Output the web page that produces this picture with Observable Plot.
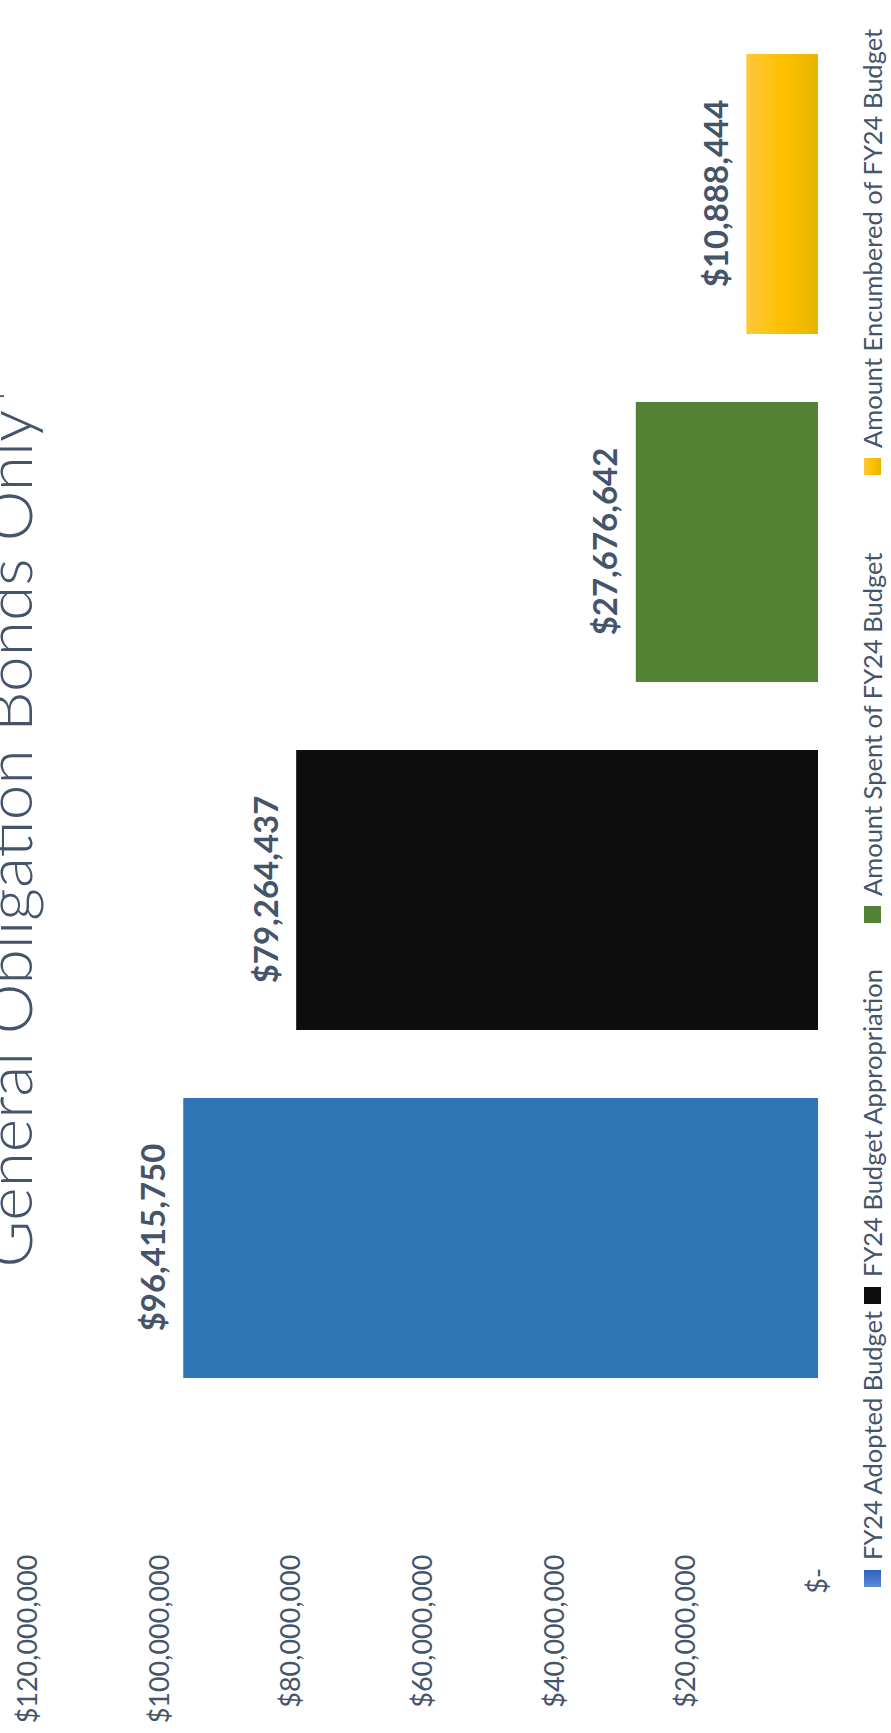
<!DOCTYPE html>
<html>
<head>
<meta charset="utf-8">
<script src="https://cdn.jsdelivr.net/npm/d3@7"></script>
<script src="https://cdn.jsdelivr.net/npm/@observablehq/plot@0.6"></script>
<style>
  html, body { margin: 0; padding: 0; background: #ffffff; }
  #page { position: relative; width: 891px; height: 1733px; overflow: hidden; background: #ffffff; }
  #frame {
    position: absolute; left: 0; top: 0; width: 1733px; height: 891px;
    transform-origin: 0 0; transform: translate(0, 1733px) rotate(-90deg);
    font-family: Lato, "Open Sans", sans-serif; color: #44546a; background: #ffffff;
  }
  #title {
    position: absolute; left: 908px; top: -24px; transform: translateX(-50%);
    white-space: nowrap; font-size: 64px; font-weight: 300; line-height: 1; color: #44546a;
  }
  #chart { position: absolute; left: 0; top: 0; }
  #legend {
    position: absolute; left: 146px; top: 860px; display: flex; align-items: center;
    white-space: nowrap; font-size: 25.5px; line-height: 1; color: #44546a;
  }
  .item { display: flex; align-items: center; flex: none; }
  .item:nth-child(1) { width: 283px; }
  .item:nth-child(2) { width: 381px; }
  .item:nth-child(3) { width: 448px; }
  .sw { width: 17px; height: 17px; margin-right: 10px; flex: none; }
</style>
</head>
<body>
<div id="page">
  <div id="frame">
    <div id="chart"></div>
    <div id="title"></div>
    <div id="legend"></div>
  </div>
</div>
<script>
const titleText = "General Obligation Bonds Only*";
const categories = [
  "FY24 Adopted Budget",
  "FY24 Budget Appropriation",
  "Amount Spent of FY24 Budget",
  "Amount Encumbered of FY24 Budget"
];
const values = [96415750, 79264437, 27676642, 10888444];
const barColors = ["#2e75b6", "#0d0d0d", "#548235", "url(#yellowGrad)"];
const swatchColors = [
  "linear-gradient(90deg, #5b8ad6, #2f62c0)",
  "#0d0d0d",
  "#548235",
  "linear-gradient(180deg, #ffc83a, #ffc000 50%, #e6b400)"
];
const yTicks = [0, 20000000, 40000000, 60000000, 80000000, 100000000, 120000000];

const data = categories.map((c, i) => ({category: c, value: values[i], color: barColors[i]}));
const money = d3.format(",");

const plot = Plot.plot({
  width: 1733,
  height: 850,
  marginTop: 28,
  marginBottom: 32,
  marginLeft: 188,
  marginRight: 19,
  style: {background: "#ffffff", fontFamily: "Lato, 'Open Sans', sans-serif", fontSize: "27px", color: "#44546a"},
  x: {domain: categories, range: [320.5, 1714.5], paddingInner: 0.195, paddingOuter: 0.0975, axis: null},
  y: {
    domain: [0, 120000000],
    ticks: yTicks,
    tickFormat: d => d === 0 ? "$-\u2002" : "$" + money(d),
    tickSize: 0,
    tickPadding: 10,
    label: null
  },
  color: {type: "identity"},
  marks: [
    Plot.barY(data, {x: "category", y: "value", fill: "color"}),
    Plot.text(data, {
      x: "category", y: "value",
      text: d => "$" + money(d.value),
      lineAnchor: "bottom", dy: -19,
      fontSize: 33, fontWeight: "bold", fill: "#44546a"
    })
  ]
});

const defs = d3.select(plot).insert("defs", ":first-child");
const g = defs.append("linearGradient").attr("id", "yellowGrad")
  .attr("x1", 0).attr("y1", 0).attr("x2", 0).attr("y2", 1);
g.append("stop").attr("offset", 0).attr("stop-color", "#fdc83c");
g.append("stop").attr("offset", 0.5).attr("stop-color", "#ffc000");
g.append("stop").attr("offset", 1).attr("stop-color", "#e6b500");

document.getElementById("chart").appendChild(plot);
document.getElementById("title").textContent = titleText;

const legend = document.getElementById("legend");
categories.forEach((c, i) => {
  const item = document.createElement("div");
  item.className = "item";
  const sw = document.createElement("span");
  sw.className = "sw";
  sw.style.background = swatchColors[i];
  const t = document.createElement("span");
  t.textContent = c;
  item.appendChild(sw);
  item.appendChild(t);
  legend.appendChild(item);
});
</script>
</body>
</html>
